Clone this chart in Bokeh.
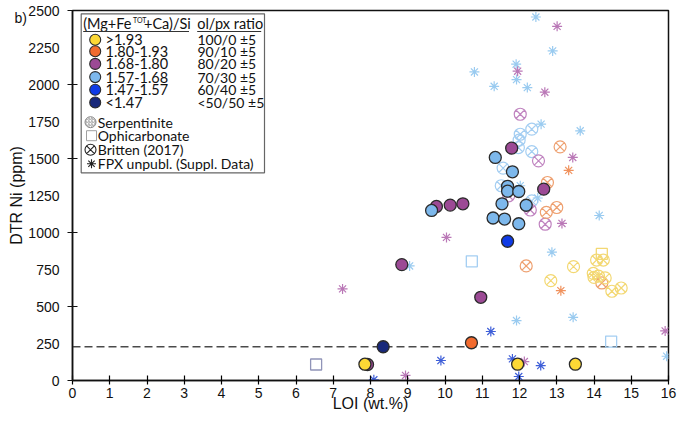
from bokeh.plotting import figure
from bokeh.models import Range1d, FixedTicker, Span, Title
from bokeh.embed import file_html
from bokeh.resources import INLINE
from bokeh.core.properties import value

# ---------------------------------------------------------------------------
# Data: LOI (wt.%) vs. DTR Ni (ppm)
# ---------------------------------------------------------------------------
CLASS_LABELS = [">1.93", "1.80-1.93", "1.68-1.80", "1.57-1.68", "1.47-1.57", "<1.47"]
OLPX_RATIOS = ["100/0 \u00b15", "90/10 \u00b15", "80/20 \u00b15", "70/30 \u00b15",
               "60/40 \u00b15", "<50/50 \u00b15"]
NI_LIMIT = 228  # dashed reference level

# Serpentinite (filled circles), per (Mg+Fe+Ca)/Si class
serp_c1_loi = [7.85, 11.95, 13.50]
serp_c1_ni = [110, 110, 110]
serp_c2_loi = [10.71]
serp_c2_ni = [255]
serp_c3_loi = [7.92, 8.84, 9.77, 10.14, 10.48, 10.96, 11.79, 12.65]
serp_c3_ni = [108, 783, 1176, 1185, 1194, 562, 1570, 1293]
serp_c4_loi = [9.64, 11.35, 11.81, 11.68, 11.68, 11.98, 11.53, 12.18, 11.29, 11.60, 11.98]
serp_c4_ni = [1149, 1507, 1410, 1312, 1279, 1277, 1194, 1184, 1098, 1091, 1059]
serp_c5_loi = [11.68]
serp_c5_ni = [941]
serp_c6_loi = [8.34]
serp_c6_ni = [NI_LIMIT]

# Ophicarbonate (open squares)
ophi_loi = [6.54, 10.72, 14.46, 14.21]
ophi_ni = [108, 805, 263, 855]
ophi_class = [5, 3, 3, 0]

# Britten (2017) (circled crosses)
brit_c1_loi = [13.45, 14.07, 14.25, 12.84, 13.98, 14.00, 14.12, 14.30, 14.48, 14.73]
brit_c1_ni = [769, 814, 814, 675, 724, 697, 705, 693, 603, 625]
brit_c2_loi = [13.09, 12.75, 13.00, 12.72, 12.18, 14.21]
brit_c2_ni = [1579, 1338, 1169, 1136, 774, 659]
brit_c3_loi = [12.02, 12.51, 11.71, 12.29, 12.69]
brit_c3_ni = [1799, 1484, 1248, 1152, 1056]
brit_c4_loi = [12.33, 12.02, 11.99, 11.97, 12.33, 11.56, 11.51, 12.33]
brit_c4_ni = [1698, 1664, 1624, 1574, 1547, 1435, 1316, 1214]

# FPX unpublished (asterisks)
fpx_c2_loi = [13.32, 13.11]
fpx_c2_ni = [1420, 607]
fpx_c3_loi = [13.01, 11.95, 12.68, 13.43, 13.14, 10.04, 7.25, 15.91, 12.13, 8.94]
fpx_c3_ni = [2393, 2090, 1948, 1507, 1061, 967, 619, 335, 128, 34]
fpx_c4_loi = [12.44, 12.89, 11.91, 11.92, 10.79, 11.32, 12.21, 12.58, 13.63, 12.02,
              12.49, 14.14, 12.87, 9.05, 11.92, 13.44, 15.95]
fpx_c4_ni = [2456, 2227, 2137, 2033, 2085, 1988, 1979, 1732, 1687, 1316,
             1233, 1115, 867, 774, 405, 427, 164]
fpx_c5_loi = [11.23, 9.89, 11.81, 12.57, 11.98, 8.09]
fpx_c5_ni = [331, 135, 146, 101, 27, 5]

# ---------------------------------------------------------------------------
# Styling
# ---------------------------------------------------------------------------
FILL = ["#FDD835", "#F26B2F", "#9C4A95", "#7DB8EC", "#0F3BE6", "#18287A"]
PALE = ["#F3D873", "#EEA070", "#C084C0", "#A4CEF2", "#4A68DA", "#9094B8"]
STAR = ["#F3D873", "#F0925E", "#BA78B7", "#9ACBF0", "#3F5FD8", "#9094B8"]
EDGE = "#2b2b2b"
AX_FONT = "Liberation Sans"
LG_FONT = "Lato"

W, H = 677, 421
FRAME_L, FRAME_R, FRAME_T, FRAME_B = 72, 668, 10, 380
X_MAX, Y_MAX = 16, 2500

p = figure(width=W, height=H, x_range=Range1d(0, X_MAX), y_range=Range1d(0, Y_MAX),
           output_backend="svg", toolbar_location=None,
           min_border_left=FRAME_L, min_border_right=W - FRAME_R,
           min_border_top=FRAME_T, min_border_bottom=H - FRAME_B)
p.title.visible = False
p.xgrid.visible = False
p.ygrid.visible = False
p.background_fill_color = "white"
p.border_fill_color = "white"
p.outline_line_color = "#111111"
p.outline_line_width = 1.5


def sx(px):
    """pixel column -> data x (used for legend placement)"""
    return (px - FRAME_L) / (FRAME_R - FRAME_L) * X_MAX


def sy(py):
    """pixel row -> data y (used for legend placement)"""
    return (FRAME_B - py) / (FRAME_B - FRAME_T) * Y_MAX


# axes
xa = p.xaxis[0]
xa.ticker = FixedTicker(ticks=list(range(0, X_MAX + 1)))
xa.major_tick_in = 5
xa.major_tick_out = 4
xa.minor_tick_line_color = None
xa.major_label_standoff = 3
xa.major_label_text_font = AX_FONT
xa.major_label_text_font_size = "14px"
xa.major_label_text_color = "#111111"
xa.axis_line_width = 1.5
xa.axis_line_color = "#111111"
xa.major_tick_line_width = 1.2

ya = p.yaxis[0]
ya.ticker = FixedTicker(ticks=list(range(0, Y_MAX + 1, 250)),
                        minor_ticks=list(range(0, Y_MAX + 1, 500)))
ya.major_tick_line_color = None
ya.major_tick_in = 0
ya.major_tick_out = 0
ya.minor_tick_in = 5
ya.minor_tick_out = 5
ya.minor_tick_line_color = "#111111"
ya.minor_tick_line_width = 1.2
ya.major_label_standoff = 8
ya.major_label_text_font = AX_FONT
ya.major_label_text_font_size = "14px"
ya.major_label_text_color = "#111111"
ya.axis_line_width = 1.5
ya.axis_line_color = "#111111"
ya.axis_label = "DTR Ni (ppm)"
ya.axis_label_text_font = AX_FONT
ya.axis_label_text_font_size = "16px"
ya.axis_label_text_font_style = "normal"
ya.axis_label_text_color = "#111111"
ya.axis_label_standoff = 0

# x-axis title, set a little left of the frame centre
p.add_layout(Title(text="LOI (wt.%)", align="center", offset=-24, standoff=-12,
                   vertical_align="top",
                   text_font=AX_FONT, text_font_size="16px", text_font_style="normal",
                   text_color="#111111"), "below")

# panel tag in the top-left corner
p.add_layout(Title(text="b)", align="left", offset=-58, standoff=-30,
                   vertical_align="bottom", text_font=AX_FONT, text_font_size="14px",
                   text_font_style="normal", text_color="#111111"), "above")

# dashed Ni reference level
p.add_layout(Span(location=NI_LIMIT, dimension="width", line_color="#4a4a4a",
                  line_width=1.4, line_dash="8 4", level="underlay"))

# FPX asterisks
for loi, ni, c in [(fpx_c4_loi, fpx_c4_ni, 3), (fpx_c3_loi, fpx_c3_ni, 2),
                   (fpx_c2_loi, fpx_c2_ni, 1), (fpx_c5_loi, fpx_c5_ni, 4)]:
    p.scatter(loi, ni, marker="asterisk", size=10, line_color=STAR[c], line_width=1.2)

# Britten (2017) circled crosses
for loi, ni, c in [(brit_c4_loi, brit_c4_ni, 3), (brit_c3_loi, brit_c3_ni, 2),
                   (brit_c2_loi, brit_c2_ni, 1), (brit_c1_loi, brit_c1_ni, 0)]:
    p.scatter(loi, ni, marker="circle_x", size=12, fill_color=None,
              line_color=PALE[c], line_width=1.2)

# Ophicarbonate squares
p.scatter(ophi_loi, ophi_ni, marker="square", size=11, fill_color=None,
          line_color=[PALE[c] for c in ophi_class], line_width=1.3)

# Serpentinite filled circles
for loi, ni, c in [(serp_c3_loi, serp_c3_ni, 2), (serp_c4_loi, serp_c4_ni, 3),
                   (serp_c1_loi, serp_c1_ni, 0), (serp_c2_loi, serp_c2_ni, 1),
                   (serp_c5_loi, serp_c5_ni, 4), (serp_c6_loi, serp_c6_ni, 5)]:
    p.scatter(loi, ni, marker="circle", size=12, fill_color=FILL[c],
              line_color=EDGE, line_width=1.3)

# ---------------------------------------------------------------------------
# Legend (drawn in data space inside the frame)
# ---------------------------------------------------------------------------
p.quad(left=sx(80.7), right=sx(264), top=sy(13.3), bottom=sy(172.3),
       fill_color="white", line_color="#666666", line_width=1.2)


def lg_text(size):
    return dict(text_font=value(LG_FONT), text_font_size=size,
                text_baseline="middle", text_align="left", text_color="#111111")


p.text(x=[sx(82.7)], y=[sy(23)], text=["(Mg+Fe"], **lg_text("14.5px"))
p.text(x=[sx(132.5)], y=[sy(19.5)], text=["TOT"], **lg_text("7px"))
p.text(x=[sx(143.5)], y=[sy(23)], text=["+Ca)/Si"], **lg_text("14.5px"))
p.text(x=[sx(196.7)], y=[sy(23)], text=["ol/px ratio"], **lg_text("14.5px"))
p.segment(x0=[sx(82.7), sx(196.7)], y0=[sy(31), sy(31)],
          x1=[sx(188.5), sx(260.7)], y1=[sy(31), sy(31)],
          line_color="#333333", line_width=1)

row_py = [39.3, 50.8, 63.4, 76.6, 89.3, 102.0]
p.scatter([sx(94.7)] * 6, [sy(v) for v in row_py], marker="circle", size=11,
          fill_color=FILL, line_color=EDGE, line_width=1.1)
p.text(x=[sx(105)] * 6, y=[sy(v) for v in row_py], text=CLASS_LABELS, **lg_text("14.5px"))
p.text(x=[sx(197)] * 6, y=[sy(v) for v in row_py], text=OLPX_RATIOS, **lg_text("14px"))

sym_py = [121.7, 135.2, 149.3, 163.3]
p.scatter([sx(90)], [sy(sym_py[0])], marker="circle", size=11, fill_color="white",
          line_color="#8a8a8a", line_width=1, hatch_pattern="/", hatch_color="#8a8a8a",
          hatch_scale=3, hatch_weight=0.8)
p.scatter([sx(91)], [sy(sym_py[1])], marker="square", size=10, fill_color=None,
          line_color="#a0a0a0", line_width=1)
p.scatter([sx(90)], [sy(sym_py[2])], marker="circle_x", size=11, fill_color=None,
          line_color="#222222", line_width=1.1)
p.scatter([sx(91)], [sy(sym_py[3])], marker="asterisk", size=9,
          line_color="#222222", line_width=1.1)
p.text(x=[sx(97.3)] * 4, y=[sy(v) for v in sym_py],
       text=["Serpentinite", "Ophicarbonate", "Britten (2017)", "FPX unpubl. (Suppl. Data)"],
       **lg_text("14px"))

open("out.html", "w").write(file_html(p, INLINE))
